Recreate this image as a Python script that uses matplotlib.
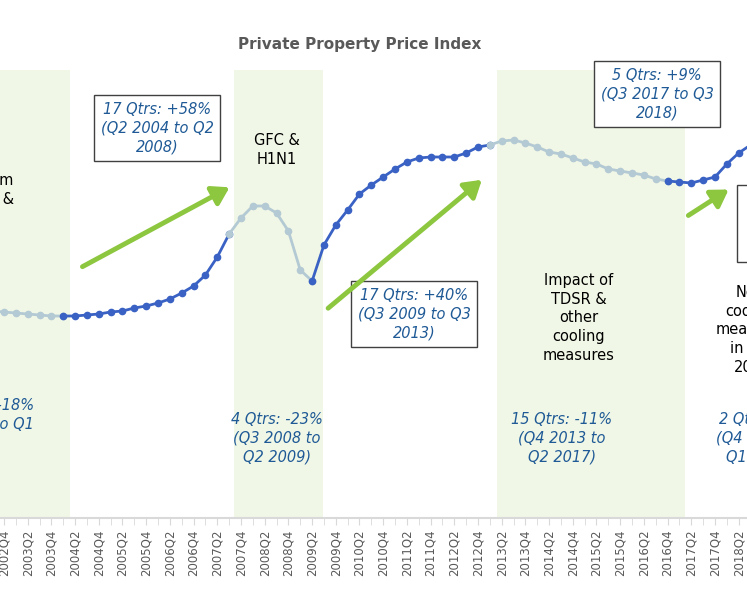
import numpy as np
import matplotlib
matplotlib.use('Agg')
import matplotlib.pyplot as plt
from matplotlib.patches import Rectangle, FancyArrowPatch

# quarter labels, index 0 = 2002Q4
quarters = []
for yr in range(2002, 2020):
    for qq in range(1, 5):
        quarters.append(f"{yr}Q{qq}")
quarters = quarters[quarters.index("2002Q4") - 1:]   # start at 2002Q3

# index values (arbitrary scale)
light1 = [289, 288, 287, 286, 285, 284, 284]                       # 2002Q3 - 2004Q1
dark1 = [284, 284, 285, 286, 288, 289, 292, 294, 297, 301, 307, 314, 325, 343, 366]  # 2004Q1 - 2007Q3
light2 = [366, 382, 394, 394, 387, 369, 330, 319]                   # 2007Q3 - 2009Q2
dark2 = [319, 355, 375, 390, 406, 415, 423, 431, 438, 442, 443, 443, 443, 447, 453, 455]  # 2009Q2 - 2013Q1
light3 = [455, 459, 460, 457, 453, 448, 446, 442, 438, 436, 431, 429, 427, 425, 421, 419]  # 2013Q1 - 2016Q4
dark3 = [419, 418, 417, 420, 423, 436, 447, 455, 460]               # 2016Q4 - 2018Q4

starts = [-1, 5, 19, 26, 41, 56]
bands = [(-1.5, 5.57), (19.4, 26.9), (41.6, 57.5)]

W, H = 747, 598
fig = plt.figure(figsize=(W / 100, H / 100), dpi=100)
ax = fig.add_axes([0, (H - 518) / H, 1, 448 / H])

def fx(px):
    return px / W

def fy(py):
    return 1 - py / H

dark_c = '#3a62c4'
light_c = '#b3c9d3'
for seg, s, c in [(light1, starts[0], light_c), (dark1, starts[1], dark_c),
                  (light2, starts[2], light_c), (dark2, starts[3], dark_c),
                  (light3, starts[4], light_c), (dark3, starts[5], dark_c)]:
    xs = np.arange(s, s + len(seg))
    ax.plot(xs, seg, color=c, lw=2, marker='o', ms=4.5, zorder=3)

for a, b in bands:
    ax.axvspan(a, b, color='#f1f7e6', zorder=0, lw=0)

ax.set_yticks([])
for s in ['left', 'right', 'top']:
    ax.spines[s].set_visible(False)
ax.spines['bottom'].set_color('#d9d9d9')
ax.spines['bottom'].set_linewidth(1.5)
pos = np.arange(-1, len(quarters) - 1)
ax.set_xticks(pos, minor=True)
ax.set_xticks(pos[1::2])
ax.set_xticklabels(quarters[1::2], rotation=90, color='#595959', fontsize=8.5)
ax.tick_params(axis='x', which='both', color='#d9d9d9', length=5)
ax.set_xlim(-4 / 11.85, 743 / 11.85)
ax.set_ylim(82, 530)

fig.text(fx(360), fy(45), 'Private Property Price Index', ha='center', va='center',
         fontsize=11, fontweight='bold', color='#595959')

blue = '#1f5a96'
tk = dict(ha='center', va='center', fontsize=10.5, linespacing=1.3)
box = dict(boxstyle='square,pad=0.45', fc='white', ec='#404040', lw=1)

fig.text(fx(157), fy(128), '17 Qtrs: +58%\n(Q2 2004 to Q2\n2008)', color=blue,
         style='italic', bbox=box, **tk)
fig.text(fx(414), fy(314), '17 Qtrs: +40%\n(Q3 2009 to Q3\n2013)', color=blue,
         style='italic', bbox=box, **tk)
fig.text(fx(657), fy(94), '5 Qtrs: +9%\n(Q3 2017 to Q3\n2018)', color=blue,
         style='italic', bbox=box, **tk)
fig.patches.append(Rectangle((fx(737), fy(262)), 0.1, (262 - 185) / H, transform=fig.transFigure,
                             fc='white', ec='#404040', lw=1, zorder=5))

fig.text(fx(277), fy(150), 'GFC &\nH1N1', color='black', **tk)
fig.text(fx(579), fy(318), 'Impact of\nTDSR &\nother\ncooling\nmeasures', color='black', **tk)
fig.text(fx(752), fy(330), 'New\ncooling\nmeasures\nin July\n2018', color='black', **tk)
fig.text(fx(14), fy(190), 'Dot-com\nSARS &', color='black', ha='right', va='center',
         fontsize=10.5, linespacing=1.3)

fig.text(fx(277), fy(438), '4 Qtrs: -23%\n(Q3 2008 to\nQ2 2009)', color=blue, style='italic', **tk)
fig.text(fx(562), fy(438), '15 Qtrs: -11%\n(Q4 2013 to\nQ2 2017)', color=blue, style='italic', **tk)
fig.text(fx(760), fy(438), '2 Qtrs: -1%\n(Q4 2018 to\nQ1 2019)', color=blue, style='italic', **tk)
fig.text(fx(34), fy(415), '13 Qtrs: -18%\n(Q4 2000 to Q1', color=blue, style='italic',
         ha='right', va='center', fontsize=10.5, linespacing=1.3, multialignment='right')

green = '#8dc63f'
for (x1, y1), (x2, y2) in [((80, 268), (232, 186)), ((326, 310), (484, 178)),
                           ((686, 217), (731, 188))]:
    fig.patches.append(FancyArrowPatch((fx(x1), fy(y1)), (fx(x2), fy(y2)),
                                       transform=fig.transFigure, color=green, lw=3.5,
                                       arrowstyle='-|>,head_length=4,head_width=2.5',
                                       mutation_scale=2.5, zorder=6))

fig.savefig('out.png', dpi=100)
